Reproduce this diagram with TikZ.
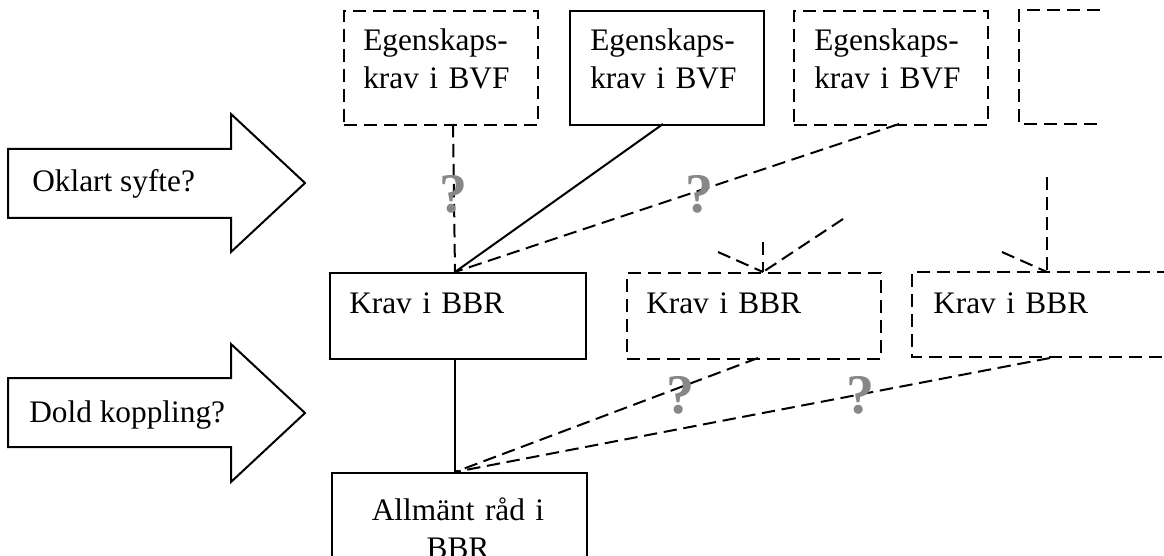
\documentclass[tikz,border=0pt]{standalone}
\usepackage{fontspec}
\setmainfont{Liberation Serif}
\begin{document}
\begin{tikzpicture}[x=0.75pt,y=-0.75pt,
  every node/.style={font=\fontsize{23.5}{28.5}\selectfont},
  rbox/.style={draw, line width=1.5pt, inner sep=0pt, anchor=north west},
  dbox/.style={rbox, dash pattern=on 10pt off 5pt},
  sl/.style={line width=1.5pt},
  dl/.style={line width=1.5pt, dash pattern=on 10pt off 5pt},
  txt/.style={inner sep=0pt, align=left, text width=160pt, anchor=base west},
  qm/.style={inner sep=0pt, text=black!47, font=\fontsize{42}{42}\selectfont\bfseries},
  blockarrow/.style={draw, line width=1.5pt, line join=miter}
]
\useasboundingbox (0,0) rectangle (1164,556);
\clip (0,0) rectangle (1164,556);

% top row boxes
\node[dbox, minimum width=145.5pt, minimum height=85.5pt] (E1) at (343,10) {};
\node[rbox, minimum width=145.5pt, minimum height=85.5pt] (E2) at (569,10) {};
\node[dbox, minimum width=145.5pt, minimum height=85.5pt] (E3) at (793,10) {};
\draw[dl] (1100,10) -- (1019,10) -- (1019,124) -- (1100,124);

\node[txt] (tE1) at (363,51) {Egenskaps-\\krav i BVF};
\node[txt] (tE2) at (590,51) {Egenskaps-\\krav i BVF};
\node[txt] (tE3) at (814,51) {Egenskaps-\\krav i BVF};

% middle row
\node[rbox, minimum width=192pt, minimum height=64.5pt] (K1) at (329,272) {};
\node[dbox, minimum width=190.5pt, minimum height=64.5pt] (K2) at (626,272) {};
\draw[dl] (1170,272) -- (912,272) -- (912,357) -- (1170,357);

\node[txt] (tK1) at (349,313) {Krav i BBR};
\node[txt] (tK2) at (646,313) {Krav i BBR};
\node[txt] (tK3) at (933,313) {Krav i BBR};

% bottom box
\node[rbox, minimum width=191.25pt, minimum height=90pt] (A) at (331,472) {};
\node[inner sep=0pt, align=center, text width=190pt, anchor=base] (tA) at (458,520) {Allmänt råd i\\BBR};

% coordinates
\coordinate (e1b) at (453,124);
\coordinate (e2b) at (663,124);
\coordinate (e3b) at (899,124);
\coordinate (k1t) at (455,272);
\coordinate (k1b) at (455,358);
\coordinate (k2t) at (763,272);
\coordinate (k2v) at (763,242);
\coordinate (k2l) at (718,252);
\coordinate (k2r) at (843,219);
\coordinate (k3t) at (1047,272);
\coordinate (k3v) at (1047,177);
\coordinate (k3l) at (1002,252);
\coordinate (k2b) at (758,358);
\coordinate (k3b) at (1050,358);
\coordinate (at) at (455,472);

% connectors
\draw[dl] (e1b) -- (k1t);
\draw[sl] (e2b) -- (k1t);
\draw[dl] (e3b) -- (k1t);
\draw[dl] (k2v) -- (k2t);
\draw[dl] (k2l) -- (k2t);
\draw[dl] (k2r) -- (k2t);
\draw[dl] (k3v) -- (k3t);
\draw[dl] (k3l) -- (k3t);
\draw[sl] (k1b) -- (at);
\draw[dl] (k2b) -- (at);
\draw[dl] (k3b) -- (at);

% block arrows
\draw[blockarrow] (8,149) -- (231,149) -- (231,114) -- (305,183) -- (231,252) -- (231,218) -- (8,218) -- cycle;
\node[inner sep=0pt, anchor=base west] (tO) at (32,192) {Oklart syfte?};
\draw[blockarrow] (8,378) -- (231,378) -- (231,344) -- (305,413) -- (231,482) -- (231,447) -- (8,447) -- cycle;
\node[inner sep=0pt, anchor=base west] (tD) at (29,422) {Dold koppling?};

% question marks
\node[qm] (q1) at (453,194) {?};
\node[qm] (q2) at (699,194) {?};
\node[qm] (q3) at (680,395) {?};
\node[qm] (q4) at (860,395) {?};
\end{tikzpicture}
\end{document}
